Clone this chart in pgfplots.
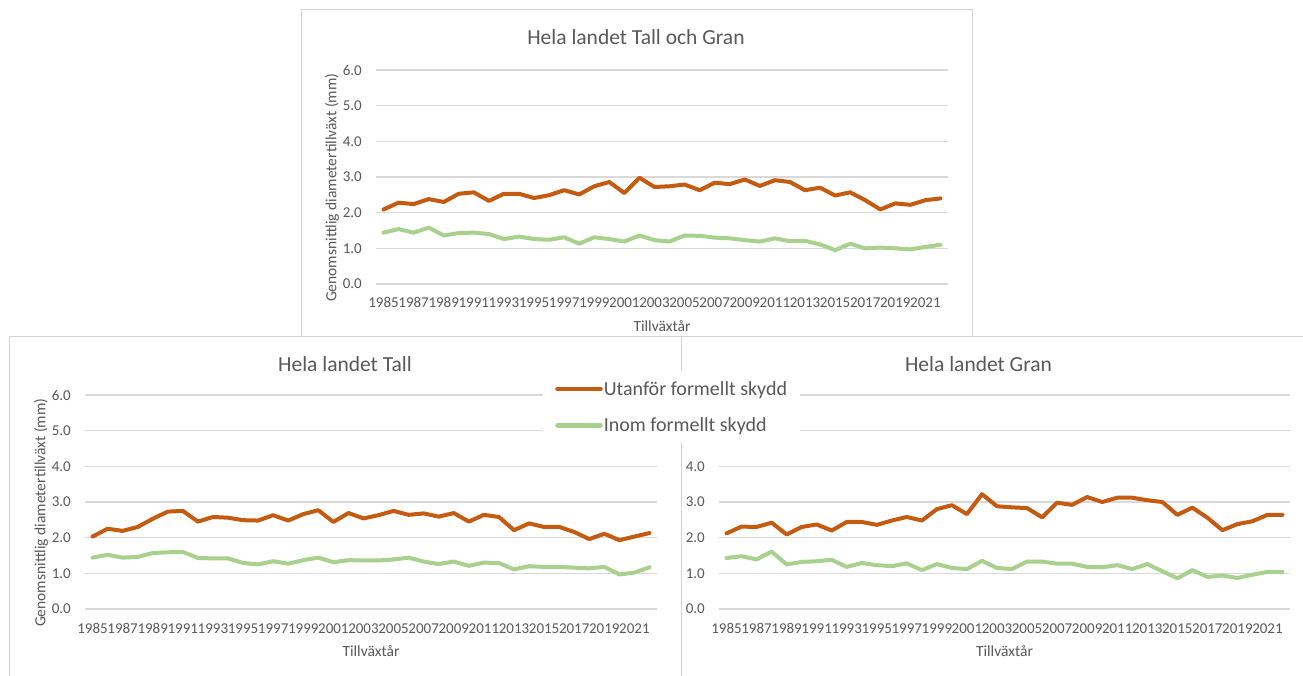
\documentclass[border=0pt]{standalone}
\usepackage{fontspec}
\setmainfont{Carlito}
\usepackage{pgfplots}
\usepackage{pgfplotstable}
\pgfplotsset{compat=1.18}

\definecolor{utan}{HTML}{C55A11}
\definecolor{inom}{HTML}{A9D18E}
\definecolor{txt}{HTML}{595959}
\definecolor{gridc}{HTML}{D9D9D9}
\definecolor{framec}{HTML}{D4D4D4}

\newcommand{\ticksize}{\fontsize{15}{17}\selectfont}
\newcommand{\labsize}{\fontsize{15.5}{18}\selectfont}

% year index 0 = 1985 ... 37 = 2022; u = utanfor, g = inom formellt skydd
\pgfplotstableread{
i u g
0 2.09 1.44
1 2.28 1.54
2 2.24 1.44
3 2.38 1.58
4 2.30 1.36
5 2.53 1.43
6 2.57 1.44
7 2.33 1.40
8 2.53 1.26
9 2.53 1.33
10 2.41 1.26
11 2.49 1.24
12 2.63 1.31
13 2.51 1.13
14 2.74 1.31
15 2.86 1.26
16 2.55 1.19
17 2.98 1.36
18 2.72 1.23
19 2.74 1.19
20 2.79 1.36
21 2.63 1.35
22 2.84 1.30
23 2.80 1.28
24 2.93 1.23
25 2.75 1.19
26 2.91 1.28
27 2.86 1.20
28 2.63 1.21
29 2.70 1.11
30 2.48 0.95
31 2.57 1.13
32 2.35 1.00
33 2.09 1.02
34 2.26 1.00
35 2.22 0.97
36 2.35 1.04
37 2.40 1.10
}\tallgran

\pgfplotstableread{
i u g
0 2.03 1.44
1 2.25 1.52
2 2.19 1.44
3 2.30 1.46
4 2.53 1.57
5 2.73 1.59
6 2.75 1.60
7 2.45 1.43
8 2.58 1.42
9 2.56 1.42
10 2.49 1.29
11 2.48 1.25
12 2.63 1.34
13 2.48 1.27
14 2.66 1.37
15 2.77 1.44
16 2.44 1.31
17 2.69 1.37
18 2.54 1.36
19 2.63 1.36
20 2.75 1.39
21 2.64 1.44
22 2.68 1.33
23 2.59 1.26
24 2.69 1.33
25 2.45 1.21
26 2.64 1.30
27 2.58 1.29
28 2.21 1.11
29 2.40 1.20
30 2.30 1.18
31 2.30 1.18
32 2.16 1.16
33 1.96 1.14
34 2.11 1.18
35 1.93 0.97
36 2.03 1.02
37 2.13 1.17
}\tall

\pgfplotstableread{
i u g
0 2.12 1.43
1 2.31 1.48
2 2.30 1.39
3 2.42 1.61
4 2.09 1.25
5 2.30 1.32
6 2.37 1.34
7 2.20 1.38
8 2.44 1.18
9 2.44 1.29
10 2.36 1.23
11 2.48 1.20
12 2.58 1.28
13 2.48 1.09
14 2.80 1.26
15 2.91 1.15
16 2.66 1.12
17 3.22 1.35
18 2.88 1.15
19 2.85 1.12
20 2.83 1.33
21 2.57 1.33
22 2.98 1.27
23 2.92 1.27
24 3.14 1.18
25 3.00 1.17
26 3.12 1.23
27 3.12 1.12
28 3.05 1.26
29 3.00 1.06
30 2.64 0.86
31 2.84 1.09
32 2.56 0.90
33 2.21 0.94
34 2.38 0.87
35 2.46 0.96
36 2.64 1.04
37 2.64 1.04
}\gran

\pgfplotsset{
  panel/.style={
    scale only axis, width=572pt, height=214pt, anchor=south west,
    xmin=-0.5, xmax=37.5, ymin=0, ymax=6,
    xtick={0,2,...,36},
    xticklabels={1985,1987,1989,1991,1993,1995,1997,1999,2001,2003,2005,2007,2009,2011,2013,2015,2017,2019,2021},
    ytick={0,1,2,3,4,5,6},
    yticklabels={0.0,1.0,2.0,3.0,4.0,5.0,6.0},
    axis line style={draw=none},
    major tick length=0pt,
    ymajorgrids, major grid style={draw=gridc, line width=1.2pt},
    xticklabel style={font=\ticksize, text=txt, inner sep=0pt, anchor=base, yshift=-24pt},
    yticklabel style={font=\ticksize, text=txt, inner sep=0pt, anchor=east, xshift=-14pt},
    xlabel={\labsize Tillväxtår},
    xlabel style={at={(axis description cs:0.5,-0.196)}, anchor=center, text=txt},
    ylabel style={at={(axis description cs:-0.077,0.45)}, anchor=center, text=txt},
    title style={at={(axis description cs:0.4545,1.125)}, anchor=center,
      font=\fontsize{21.5}{24}\selectfont, text=txt},
  },
  utanline/.style={draw=utan, line width=4pt, line join=round, line cap=round, no markers},
  inomline/.style={draw=inom, line width=4pt, line join=round, line cap=round, no markers},
}

\begin{document}
\begin{tikzpicture}
\useasboundingbox (0pt,0pt) rectangle (1303pt,675pt);

% top chart
\draw[framec, line width=1pt, fill=white] (301pt,330pt) rectangle (972pt,665pt);
\begin{axis}[panel, at={(376pt,391pt)},
  title={Hela landet Tall och Gran},
  ylabel={\labsize Genomsnittlig diametertillväxt (mm)}]
\addplot[utanline] table[x=i, y=u] {\tallgran};
\addplot[inomline] table[x=i, y=g] {\tallgran};
\end{axis}

% right chart (Gran)
\draw[framec, line width=1pt, fill=white] (680pt,-10pt) rectangle (1320pt,338pt);
\begin{axis}[panel, at={(719pt,66pt)}, width=571pt,
  title={Hela landet Gran},
  title style={at={(axis description cs:0.4545,1.118)}}]
\addplot[utanline] table[x=i, y=u] {\gran};
\addplot[inomline] table[x=i, y=g] {\gran};
\end{axis}

% left chart (Tall) with the shared legend on top
\draw[framec, line width=1pt, fill=white] (9pt,-10pt) rectangle (681pt,338pt);
\begin{axis}[panel, at={(85pt,66pt)},
  title={Hela landet Tall},
  title style={at={(axis description cs:0.4545,1.118)}},
  ylabel={\labsize Genomsnittlig diametertillväxt (mm)},
  legend cell align=left,
  legend image code/.code={\draw[#1, line width=4.6pt] (0pt,0pt) -- (43pt,0pt);},
  legend style={at={(axis description cs:0.8007,1.112)}, anchor=north west,
    fill=white, draw=none, inner xsep=12pt, inner ysep=9pt, row sep=19pt,
    font=\fontsize{20}{22}\selectfont, text=txt, nodes={inner sep=1pt},
    /tikz/every even column/.append style={column sep=3pt}}]
\addplot[utanline] table[x=i, y=u] {\tall};
\addlegendentry{Utanför formellt skydd}
\addplot[inomline] table[x=i, y=g] {\tall};
\addlegendentry{Inom formellt skydd}
\end{axis}
\end{tikzpicture}
\end{document}
